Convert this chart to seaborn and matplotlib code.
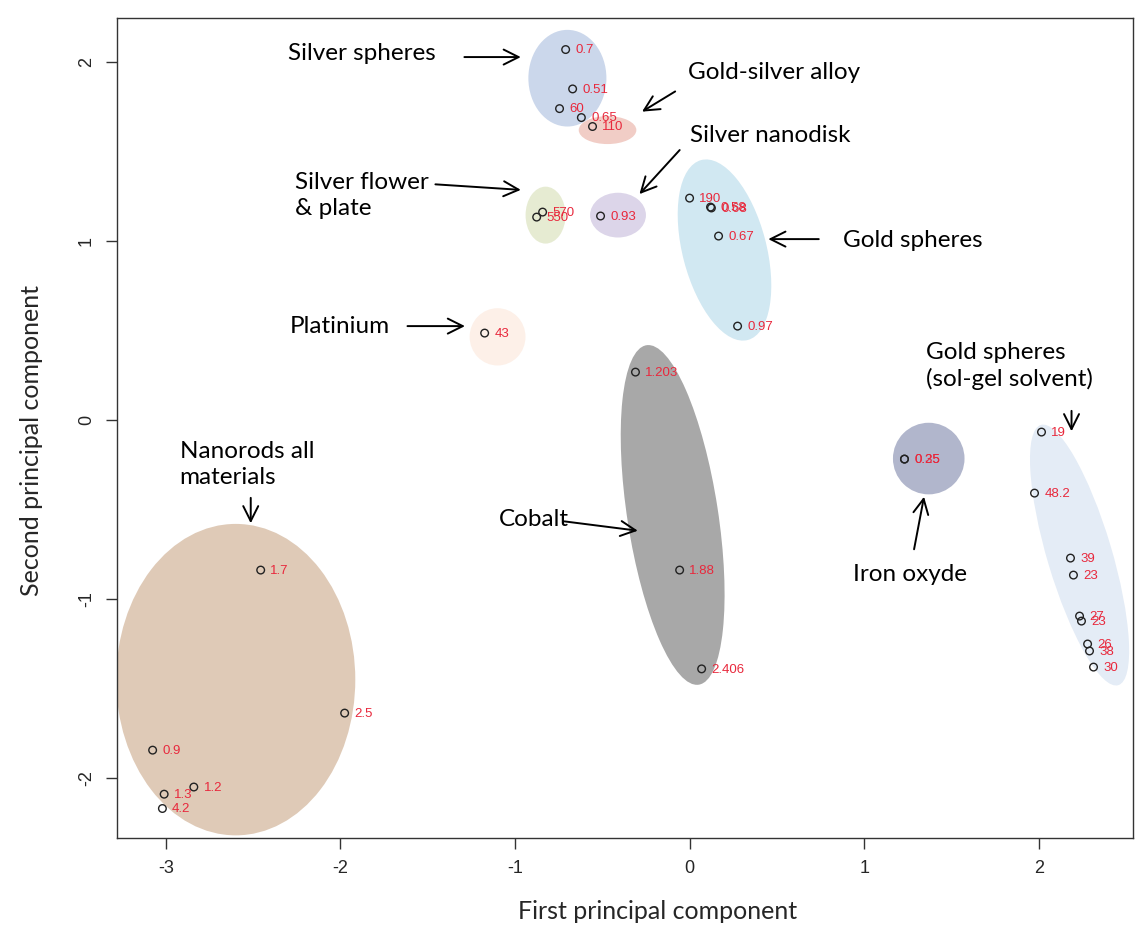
import matplotlib
matplotlib.use("Agg")
import matplotlib.pyplot as plt
from matplotlib.patches import Ellipse
import seaborn as sns
import pandas as pd

# ---- data ----
groups = (["Silver spheres"] * 4 + ["Gold-silver alloy"] + ["Silver flower"] * 2 +
          ["Silver nanodisk"] + ["Gold spheres"] * 5 + ["Platinium"] + ["Cobalt"] * 3 +
          ["Iron oxyde"] * 2 + ["Gold sol-gel"] * 9 + ["Nanorods"] * 6)
pc1 = [-0.71, -0.67, -0.745, -0.62, -0.556,
       -0.876, -0.842,
       -0.51,
       0.0, 0.12, 0.125, 0.166, 0.275,
       -1.174,
       -0.31, -0.057, 0.069,
       1.231, 1.231,
       2.016, 1.976, 2.182, 2.199, 2.234, 2.245, 2.28, 2.291, 2.314,
       -2.457, -1.976, -3.076, -2.84, -3.01, -3.02]
pc2 = [2.07, 1.85, 1.74, 1.69, 1.64,
       1.134, 1.162,
       1.14,
       1.24, 1.19, 1.185, 1.028, 0.525,
       0.486,
       0.268, -0.838, -1.39,
       -0.218, -0.218,
       -0.067, -0.408, -0.771, -0.866, -1.095, -1.123, -1.251, -1.29, -1.38,
       -0.838, -1.637, -1.844, -2.05, -2.09, -2.17]
sizes = ["0.7", "0.51", "60", "0.65", "110",
         "550", "570",
         "0.93",
         "190", "0.58", "0.68", "0.67", "0.97",
         "43",
         "1.203", "1.88", "2.406",
         "0.25", "0.35",
         "19", "48.2", "39", "23", "27", "23", "26", "38", "30",
         "1.7", "2.5", "0.9", "1.2", "1.3", "4.2"]

# cluster ellipses: centre x, centre y, width, height, angle, colour
ell_x = [-0.70, -0.47, -0.825, -0.41, 0.20, -1.10, -0.097, 1.37, 2.234, -2.60]
ell_y = [1.91, 1.62, 1.145, 1.145, 0.95, 0.465, -0.53, -0.215, -0.754, -1.45]
ell_w = [0.447, 0.33, 0.229, 0.32, 0.48, 0.32, 0.52, 0.41, 0.37, 1.37]
ell_h = [0.54, 0.156, 0.318, 0.25, 1.04, 0.32, 1.92, 0.40, 1.52, 1.74]
ell_a = [0, 0, 0, 0, 15, 0, 9, 0, 17, 0]
ell_c = ["#cbd7eb", "#f1cdc6", "#e6ebd2", "#dcd5e9", "#d1e8f2", "#fdf0e8",
         "#a8a8a8", "#b1b6cc", "#e4ecf6", "#dfcab7"]

# annotations: text, text x, text y, arrow tail x, y, arrow head x, y
ann_text = ["Silver spheres", "Gold-silver alloy", "Silver nanodisk",
            "Silver flower\n& plate", "Gold spheres", "Platinium",
            "Gold spheres\n(sol-gel solvent)", "Nanorods all\nmaterials",
            "Cobalt", "Iron oxyde"]
ann_tx = [-2.302, -0.011, 0.0, -2.262, 0.876, -2.291, 1.357, -2.921, -1.094, 0.934]
ann_ty = [2.050, 1.944, 1.592, 1.257, 1.006, 0.520, 0.302, -0.246, -0.553, -0.860]
arr_x0 = [-1.306, -0.069, -0.046, -1.472, 0.756, -1.632, 2.188, -2.514, -0.733, 1.283]
arr_y0 = [2.028, 1.844, 1.52, 1.318, 1.011, 0.525, 0.067, -0.419, -0.564, -0.737]
arr_x1 = [-0.951, -0.286, -0.298, -0.951, 0.435, -1.271, 2.188, -2.514, -0.281, 1.346]
arr_y1 = [2.028, 1.715, 1.251, 1.285, 1.011, 0.525, -0.078, -0.592, -0.620, -0.413]

df = pd.DataFrame({"group": groups, "pc1": pc1, "pc2": pc2, "size": sizes})

# ---- plot ----
sns.set_theme(style="white")
plt.rcParams["font.family"] = ["DejaVu Sans"]
fig = plt.figure(figsize=(11.45, 9.35), dpi=100)
ax = fig.add_axes([0.1022, 0.1037, 0.8873, 0.877])

for x, y, w, h, a, c in zip(ell_x, ell_y, ell_w, ell_h, ell_a, ell_c):
    ax.add_patch(Ellipse((x, y), w, h, angle=a, facecolor=c, edgecolor="none", zorder=1))

sns.scatterplot(data=df, x="pc1", y="pc2", ax=ax, marker="o", s=30,
                color="black", facecolors="none", edgecolor="#222222",
                linewidth=1.0, zorder=3, legend=False)

for x, y, s in zip(df["pc1"], df["pc2"], df["size"]):
    ax.annotate(s, (x, y), xytext=(7, -0.5), textcoords="offset points",
                ha="left", va="center", fontsize=9.5, color="#e8283c",
                family=["Liberation Sans", "DejaVu Sans"], zorder=4)

afont = ["Lato", "DejaVu Sans"]
for t, tx, ty, x0, y0, x1, y1 in zip(ann_text, ann_tx, ann_ty, arr_x0, arr_y0, arr_x1, arr_y1):
    ax.text(tx, ty, t, ha="left", va="center", fontsize=17.5, family=afont,
            linespacing=1.3, color="black", zorder=5)
    ax.annotate("", xy=(x1, y1), xytext=(x0, y0),
                arrowprops=dict(arrowstyle="->,head_length=0.9,head_width=0.45",
                                color="black", lw=1.4), zorder=5)

ax.set_xlim(-3.28, 2.54)
ax.set_ylim(-2.335, 2.246)
ax.set_xticks([-3, -2, -1, 0, 1, 2])
ax.set_yticks([-2, -1, 0, 1, 2])
tfont = ["Liberation Sans Narrow", "Liberation Sans", "DejaVu Sans"]
ax.set_xticklabels(["-3", "-2", "-1", "0", "1", "2"], family=tfont, fontsize=13)
ax.set_yticklabels(["-2", "-1", "0", "1", "2"], family=tfont, fontsize=13,
                   rotation=90, va="center")
ax.tick_params(axis="both", direction="out", length=8, width=1, color="#333333",
               bottom=True, left=True, pad=8)
ax.set_xlabel("First principal component", family=afont, fontsize=18)
ax.set_ylabel("Second principal component", family=afont, fontsize=18)
ax.xaxis.set_label_coords(0.532, -0.075)
ax.yaxis.set_label_coords(-0.073, 0.485)
for sp in ax.spines.values():
    sp.set_color("#333333")
    sp.set_linewidth(1.0)

fig.savefig("out.png", dpi=100)
